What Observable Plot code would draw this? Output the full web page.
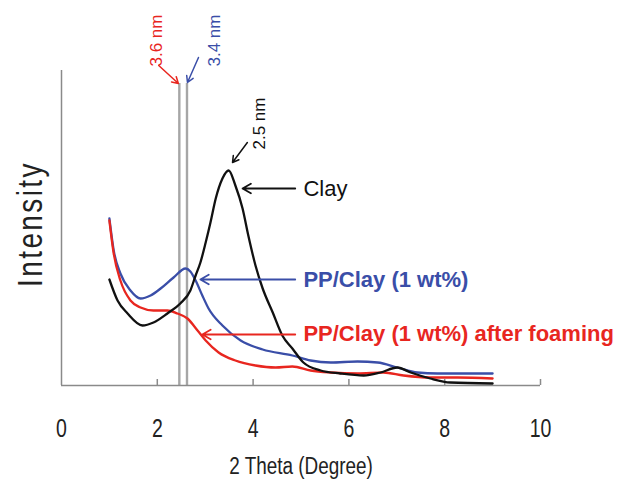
<!DOCTYPE html>
<html><head><meta charset="utf-8">
<script src="https://cdn.jsdelivr.net/npm/d3@7"></script>
<script src="https://cdn.jsdelivr.net/npm/@observablehq/plot@0.6"></script>
<style>body{margin:0;background:#fff}</style>
</head><body><div id="chart"></div>
<script>
// 2 Theta (degree) and intensity (a.u.)
const clayTheta = [1.00,1.17,1.38,1.69,1.92,2.21,2.48,2.69,2.80,2.90,3.01,3.11,3.22,3.36,3.49,3.63,3.78,3.90,4.05,4.20,4.41,4.61,4.82,5.05,5.41,5.82,6.31,6.66,7.01,7.29,7.70,8.12,9.00];
const clayInt   = [106,85,72,60,63,72,82,95,110,123,143,163,187,207,215,200,177,150,120,97,73,50,37,23,15,12,10,13,18,13,7,3,2];

const ppTheta = [1.00,1.09,1.23,1.44,1.65,1.86,2.07,2.34,2.59,2.69,2.80,2.94,3.07,3.36,3.74,4.20,4.82,5.20,5.62,6.18,6.60,7.01,7.43,7.85,8.27,9.00];
const ppInt   = [167,135,112,95,87,90,97,108,117,114,105,90,77,60,45,36,30,25,23,24,23,18,13,12,12,12];

const foamTheta = [1.00,1.09,1.23,1.44,1.65,1.92,2.21,2.42,2.63,2.84,3.01,3.28,3.63,4.05,4.47,4.82,5.20,5.62,6.18,6.72,7.14,7.70,8.27,9.00];
const foamInt   = [165,132,105,85,78,75,75,72,67,55,45,33,25,20,18,19,15,13,12,13,10,8,8,7];

const xTicks = [0, 2, 4, 6, 8, 10];
const dSpacingLines = [2.46, 2.62];   // 3.6 nm and 3.4 nm reflections
const dSpacingTop = 302;

const BLACK = "#111111", BLUE = "#3a4ea8", RED = "#e8261f", GRAY = "#8a8a8a";

const seriesLabels = [
  {x: 5.05, y: 197, text: "Clay", c: BLACK},
  {x: 5.05, y: 106, text: "PP/Clay (1 wt%)", c: BLUE},
  {x: 5.05, y: 52, text: "PP/Clay (1 wt%) after foaming", c: RED}
];
const seriesArrows = [
  {x1: 4.88, y1: 197, x2: 3.78, y2: 197, c: BLACK},
  {x1: 4.88, y1: 106, x2: 2.90, y2: 106, c: BLUE},
  {x1: 4.88, y1: 51, x2: 2.94, y2: 51, c: RED}
];
const peakLabels = [
  {x: 1.98, y: 345, text: "3.6 nm", c: RED},
  {x: 3.19, y: 345, text: "3.4 nm", c: BLUE},
  {x: 4.13, y: 262, text: "2.5 nm", c: BLACK}
];
const peakArrows = [
  {x1: 2.03, y1: 320, x2: 2.44, y2: 302, c: RED},
  {x1: 2.86, y1: 328, x2: 2.63, y2: 303, c: BLUE},
  {x1: 3.88, y1: 243, x2: 3.57, y2: 223, c: BLACK}
];

const rows = (xs, ys) => xs.map((x, i) => ({x, y: ys[i]}));
const FONT = "Liberation Sans, Arial, sans-serif";

const svg = Plot.plot({
  width: 617, height: 491,
  marginLeft: 61, marginRight: 77, marginTop: 70, marginBottom: 106,
  style: {fontFamily: FONT, background: "#fff", overflow: "visible"},
  x: {domain: [0, 10], axis: null},
  y: {domain: [0, 315], axis: null},
  color: {type: "identity"},
  marks: [
    Plot.ruleX(dSpacingLines, {y1: 0, y2: dSpacingTop, stroke: "#a6a6a6", strokeWidth: 2.4}),
    Plot.ruleX([0], {stroke: GRAY, strokeWidth: 1.5}),
    Plot.ruleY([0], {stroke: GRAY, strokeWidth: 1.5}),
    Plot.ruleX(xTicks.slice(1), {y1: 0, y2: 0, insetTop: -6, stroke: GRAY, strokeWidth: 1.5}),
    Plot.text(xTicks, {x: d => d, frameAnchor: "bottom", dy: 43, lineAnchor: "middle", textAnchor: "middle", fontSize: 25, fill: "#222"}),
    Plot.text(["2 Theta (Degree)"], {frameAnchor: "bottom", dy: 81, lineAnchor: "middle", fontSize: 21, fill: "#222"}),
    Plot.text(["Intensity"], {frameAnchor: "left", dx: -31, dy: -4, rotate: -90, textAnchor: "middle", fontSize: 35, fill: "#222", lineAnchor: "middle"}),
    Plot.line(rows(ppTheta, ppInt), {x: "x", y: "y", stroke: BLUE, strokeWidth: 2.3, curve: "monotone-x"}),
    Plot.line(rows(foamTheta, foamInt), {x: "x", y: "y", stroke: RED, strokeWidth: 2.3, curve: "monotone-x"}),
    Plot.line(rows(clayTheta, clayInt), {x: "x", y: "y", stroke: BLACK, strokeWidth: 2.3, curve: "monotone-x"}),
    Plot.arrow(seriesArrows, {x1: "x1", y1: "y1", x2: "x2", y2: "y2", stroke: "c", strokeWidth: 1.8, headLength: 8, bend: 0}),
    Plot.arrow(peakArrows, {x1: "x1", y1: "y1", x2: "x2", y2: "y2", stroke: "c", strokeWidth: 1.5, headLength: 7, bend: 0}),
    Plot.text(seriesLabels.slice(0, 1), {x: "x", y: "y", text: "text", fill: "c", textAnchor: "start", lineAnchor: "middle", fontSize: 22}),
    Plot.text(seriesLabels.slice(1), {x: "x", y: "y", text: "text", fill: "c", textAnchor: "start", lineAnchor: "middle", fontSize: 22, fontWeight: "bold"}),
    Plot.text(peakLabels, {x: "x", y: "y", text: "text", fill: "c", rotate: -90, textAnchor: "middle", lineAnchor: "middle", fontSize: 17})
  ]
});

document.getElementById("chart").appendChild(svg);
const tickStrings = xTicks.map(String);
svg.querySelectorAll("text").forEach(t => {
  const txt = t.textContent;
  const tf = t.getAttribute("transform") || "";
  if (tickStrings.includes(txt) && /,385\)$/.test(tf)) {
    t.setAttribute("transform", tf + " scale(0.78,1)");
  } else if (txt === "Intensity") {
    t.setAttribute("transform", tf + " scale(0.8,1)");
    t.style.letterSpacing = "3px";
  } else if (txt === "2 Theta (Degree)") {
    t.setAttribute("transform", tf + " scale(0.9,1.1)");
  }
});
</script>
</body></html>
